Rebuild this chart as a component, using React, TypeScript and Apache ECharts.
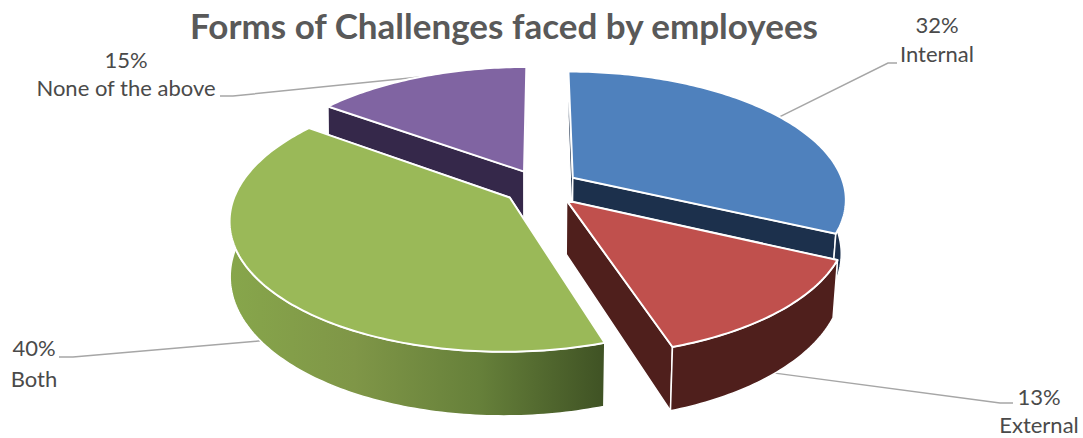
import React, { useEffect, useRef } from "react";
import * as echarts from "echarts";

const titleText = "Forms of Challenges faced by employees";
const categories = ["Internal", "External", "Both", "None of the above"];
const shares = [32, 13, 40, 15];
const topColors = ["#4f81bd", "#c0504d", "#9ab958", "#8064a2"];
const wallColors = ["#1c304c", "#4f1f1c", null, "#35284a"];
const greenWallStops = ["#87a64b", "#7f9647", "#66803a", "#3f5224"];

// Projection of the tilted disc on to the canvas.
const CENTER_X = 541;
const CENTER_Y = 187;
const SCALE_X = 272;
const SCALE_Y = 125.9;
const PERSPECTIVE = 0.16;
const EXPLODE = 0.14;
const THICKNESS = 53;
const BASE_SHRINK_RIGHT = 0.985;
const BASE_SHRINK_LEFT = 0.998;

// Leader-line elbows and label placement, by category.
const labelLayout = [
  { elbow: [[888, 63], [897, 63]], x: 937, yPct: 24, yName: 53, rim: "top" },
  { elbow: [[1000, 403], [1013, 403]], x: 1039, yPct: 396, yName: 424, rim: "bottom" },
  { elbow: [[73, 357], [59, 357]], x: 34, yPct: 347, yName: 378, rim: "bottom" },
  { elbow: [[233, 96], [220, 96]], x: 126, yPct: 59, yName: 87, rim: "top" },
];

const total = shares.reduce((a, b) => a + b, 0);
const rad = (deg: number) => (deg * Math.PI) / 180;

type Slice = { start: number; end: number; mid: number };
const slices: Slice[] = [];
{
  let acc = 0;
  for (const v of shares) {
    const start = (acc / total) * 360;
    acc += v;
    const end = (acc / total) * 360;
    slices.push({ start, end, mid: (start + end) / 2 });
  }
}

// Slices further from the viewer are painted first.
const paintOrder = slices
  .map((s, i) => ({ i, far: Math.cos(rad(s.mid)) }))
  .sort((a, b) => b.far - a.far)
  .map((o) => o.i);

function project(worldX: number, worldZ: number, base: boolean): number[] {
  const d = 1 + PERSPECTIVE * worldZ;
  const k = base ? (worldX > 0 ? BASE_SHRINK_RIGHT : BASE_SHRINK_LEFT) : 1;
  const x = CENTER_X + (SCALE_X * worldX * k) / d;
  const y = CENTER_Y - (SCALE_Y * worldZ) / d + (base ? THICKNESS / d : 0);
  return [x, y];
}

function apexOf(s: Slice, base: boolean): number[] {
  return project(EXPLODE * Math.sin(rad(s.mid)), EXPLODE * Math.cos(rad(s.mid)), base);
}

function rimPoint(s: Slice, deg: number, base: boolean): number[] {
  const ox = EXPLODE * Math.sin(rad(s.mid));
  const oz = EXPLODE * Math.cos(rad(s.mid));
  return project(ox + Math.sin(rad(deg)), oz + Math.cos(rad(deg)), base);
}

function arcPoints(s: Slice, from: number, to: number, base: boolean): number[][] {
  const pts: number[][] = [];
  const steps = Math.max(2, Math.ceil(to - from));
  for (let k = 0; k <= steps; k++) {
    pts.push(rimPoint(s, from + ((to - from) * k) / steps, base));
  }
  return pts;
}

function renderSlice(params: any, api: any) {
  const i: number = params.dataIndex;
  const value = api.value(0);
  const s = slices[i];
  const rank = 10 + paintOrder.indexOf(i) * 10;
  const layout = labelLayout[i];

  const wallFill: any =
    wallColors[i] ??
    new echarts.graphic.LinearGradient(
      0, 0, 1, 0,
      greenWallStops.map((color, k) => ({ offset: k / (greenWallStops.length - 1), color }))
    );
  const edge = { stroke: "#ffffff", lineWidth: 1.5, lineJoin: "round" };
  const rimEdge = { stroke: "#ffffff", lineWidth: 2, lineJoin: "round" };

  const faceA = [apexOf(s, false), rimPoint(s, s.start, false), rimPoint(s, s.start, true), apexOf(s, true)];
  const faceB = [apexOf(s, false), rimPoint(s, s.end, false), rimPoint(s, s.end, true), apexOf(s, true)];
  const top = [apexOf(s, false), ...arcPoints(s, s.start, s.end, false)];

  // Only the near half of the outer rim faces the viewer.
  const wallFrom = Math.max(s.start, 90);
  const wallTo = Math.min(s.end, 270);
  const wallElements =
    wallTo > wallFrom
      ? [
          {
            type: "polygon",
            z2: rank + 2,
            shape: {
              points: [
                ...arcPoints(s, wallFrom, wallTo, false),
                ...arcPoints(s, wallFrom, wallTo, true).reverse(),
              ],
            },
            style: { fill: wallFill, ...edge },
          },
        ]
      : [];

  const anchor = rimPoint(s, s.mid, layout.rim === "bottom");

  return {
    type: "group",
    children: [
      {
        type: "polyline",
        z2: 1,
        shape: { points: [anchor, ...layout.elbow] },
        style: { stroke: "#a6a6a6", lineWidth: 1.5, fill: "none" },
      },
      { type: "polygon", z2: rank, shape: { points: faceA }, style: { fill: wallColors[i] ?? "#3f5224", ...edge } },
      { type: "polygon", z2: rank + 1, shape: { points: faceB }, style: { fill: wallColors[i] ?? "#3f5224", ...edge } },
      ...wallElements,
      { type: "polygon", z2: rank + 3, shape: { points: top }, style: { fill: topColors[i], ...rimEdge } },
      {
        type: "text",
        z2: 100,
        style: {
          text: `${value}%`, x: layout.x, y: layout.yPct, fill: "#4a4a4a",
          fontFamily: "Lato", fontSize: 22, align: "center", verticalAlign: "middle",
        },
      },
      {
        type: "text",
        z2: 100,
        style: {
          text: categories[i], x: layout.x, y: layout.yName, fill: "#4a4a4a",
          fontFamily: "Lato", fontSize: 22, align: "center", verticalAlign: "middle",
        },
      },
    ],
  };
}

export default function App() {
  const ref = useRef<HTMLDivElement>(null);
  useEffect(() => {
    const chart = echarts.init(ref.current!, null, { renderer: "svg" });
    chart.setOption({
      animation: false,
      backgroundColor: "#ffffff",
      title: {
        text: titleText,
        left: 504,
        top: 25,
        textAlign: "center",
        textVerticalAlign: "middle",
        padding: 0,
        textStyle: { fontFamily: "Lato", fontWeight: "bold", fontSize: 35, color: "#595959" },
      },
      series: [
        {
          type: "custom",
          coordinateSystem: "none",
          silent: true,
          data: shares.map((v) => [v]),
          renderItem: renderSlice,
        },
      ],
    });
    return () => chart.dispose();
  }, []);
  return <div ref={ref} style={{ position: "absolute", left: 0, top: 0, width: 1083, height: 438 }} />;
}
